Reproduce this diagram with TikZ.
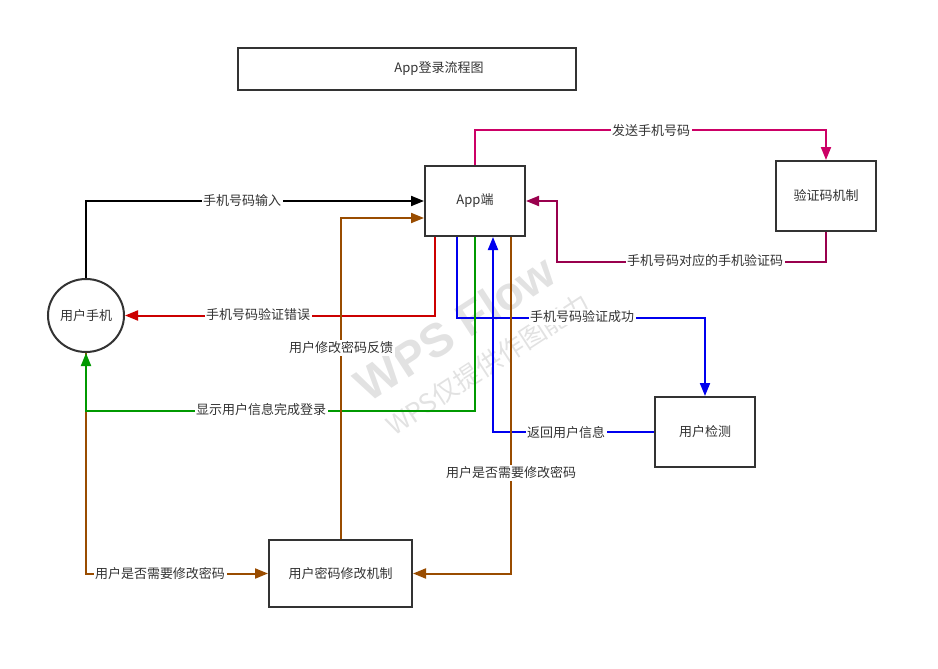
\documentclass[tikz,border=0pt]{standalone}
\usepackage{fontspec}
\newfontfamily\cjk{Noto Sans CJK SC}
\newfontfamily\wmfont{Liberation Sans}
\usetikzlibrary{arrows.meta,shapes.geometric}
\definecolor{bordc}{HTML}{333333}
\definecolor{cMag}{HTML}{CC0066}
\definecolor{cDMag}{HTML}{99004D}
\definecolor{cRed}{HTML}{CC0000}
\definecolor{cBlue}{HTML}{0000EE}
\definecolor{cGreen}{HTML}{009900}
\definecolor{cBrown}{HTML}{994C00}
\definecolor{wmc}{HTML}{E2E2E2}
\tikzset{
  box/.style={draw=bordc,line width=2pt,fill=white,minimum width=100pt,minimum height=70pt,inner sep=0pt,text=bordc},
  conn/.style={line width=2pt,-{Triangle[length=13pt,width=10pt]}},
  lbl/.style={fill=white,inner sep=1.5pt,text=bordc},
}
\begin{document}
\begin{tikzpicture}[x=1pt,y=-1pt,font=\cjk\fontsize{13}{15}\selectfont]
\useasboundingbox (0,0) rectangle (938,669);
% watermark
\node[text=wmc,rotate=33,font=\wmfont\bfseries\fontsize{47}{50}\selectfont] (wm1) at (455,328) {WPS Flow};
\node[text=wmc,rotate=33,font=\cjk\fontsize{26}{28}\selectfont] (wm2) at (488,364) {WPS仅提供作图能力};
% nodes
\node[box,minimum width=338pt,minimum height=42pt] (title) at (407,69) {\hspace*{64pt}App登录流程图};
\node[box] (app) at (475,201) {App端};
\node[box] (verif) at (826,196) {验证码机制};
\node[box] (check) at (705,432) {用户检测};
\node[box,minimum width=143pt,minimum height=67pt] (pwd) at (340.5,573.5) {用户密码修改机制};
\node[draw=bordc,line width=2pt,ellipse,minimum width=76pt,minimum height=73pt,inner sep=0pt,text=bordc] (phone) at (86,315.5) {用户手机};
% connectors
\draw[conn,black] (phone.north) |- (app.west);
\draw[conn,cMag] (app.north) -- ++(0,-35) -| (verif.north);
\draw[conn,cDMag] (verif.south) -- ++(0,30) -| ([xshift=31pt]app.east) -- (app.east);
\draw[conn,cRed] ([xshift=-40pt]app.south) |- (phone.east);
\draw[conn,cBlue] ([xshift=-18pt]app.south) -- ++(0,81) -| (check.north);
\draw[conn,cBlue] (check.west) -| ([xshift=18pt]app.south);
\draw[conn,cBrown] (phone.south) |- (pwd.west);
\draw[conn,cGreen] (app.south) -- ++(0,174) -| (phone.south);
\draw[conn,cBrown] ([xshift=36pt]app.south) |- (pwd.east);
\draw[conn,cBrown] (pwd.north) |- ([yshift=-17pt]app.west);
% labels
\node[lbl] (l1) at (242,201) {手机号码输入};
\node[lbl] (l2) at (651,131) {发送手机号码};
\node[lbl] (l3) at (705,261) {手机号码对应的手机验证码};
\node[lbl] (l4) at (258,315) {手机号码验证错误};
\node[lbl] (l5) at (582,317) {手机号码验证成功};
\node[lbl] (l6) at (566,433) {返回用户信息};
\node[lbl] (l7) at (261,410) {显示用户信息完成登录};
\node[lbl] (l8) at (511,473) {用户是否需要修改密码};
\node[lbl] (l9) at (160,574) {用户是否需要修改密码};
\node[lbl] (l10) at (341,348) {用户修改密码反馈};
\end{tikzpicture}
\end{document}
